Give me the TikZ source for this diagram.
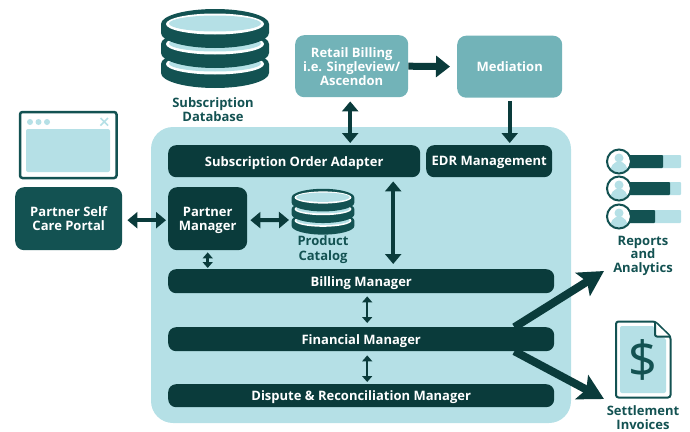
\documentclass[tikz,border=0pt]{standalone}
\usepackage{fontspec}
\setmainfont{Noto Sans}
\newfontfamily\labfont{Open Sans}
\usetikzlibrary{arrows.meta,calc}
\definecolor{dk}{HTML}{0A3B3B}
\definecolor{tl}{HTML}{135252}
\definecolor{lt}{HTML}{B5E0E6}
\definecolor{md}{HTML}{72B3B8}
\newcommand{\dblayer}[1]{%
  \fill[tl] (-54,#1) arc[start angle=180,end angle=360,x radius=54,y radius=15] -- (54,#1+9)
     arc[start angle=0,end angle=180,x radius=54,y radius=15] -- cycle;
  \fill[white] (0,#1) ellipse[x radius=49,y radius=10.5];
  \fill[lt] (0,#1-0.5) ellipse[x radius=46,y radius=8];
}
\newcommand{\person}[1]{%
  \begin{scope}[shift={(619,#1)}]
    \fill[white] (0,0) circle[radius=11];
    \begin{scope}
      \clip (0,0) circle[radius=11];
      \fill[lt] (0,-3.5) circle[radius=4.5];
      \fill[lt] (0,11) ellipse[x radius=9,y radius=11];
    \end{scope}
    \draw[tl,line width=2] (0,0) circle[radius=12];
  \end{scope}
}
\tikzset{
  x=1pt,y=-1pt,
  darkbox/.style={fill=dk,rounded corners=#1,text=white,font=\labfont\bfseries\fontsize{13}{14.5}\selectfont,align=center,inner sep=0pt,anchor=north west,text depth=0pt},
  darkbox/.default=9pt,
  midbox/.style={fill=md,rounded corners=9pt,text=white,font=\labfont\bfseries\fontsize{13}{14}\selectfont,align=center,inner sep=0pt,anchor=north west,text depth=0pt},
  lab/.style={text=tl,font=\labfont\bfseries\fontsize{13}{13.5}\selectfont,align=center,inner sep=0pt},
  bigarr/.style={dk,line width=7pt,-{Triangle[length=14pt,width=21pt]}},
  medarr/.style={dk,line width=4pt,{Triangle[length=10pt,width=16pt]}-{Triangle[length=10pt,width=16pt]}},
  vmedarr/.style={dk,line width=3.5pt,{Triangle[length=10pt,width=16pt]}-{Triangle[length=10pt,width=16pt]}},
  smarr/.style={dk,line width=2.5pt,{Triangle[length=6pt,width=10pt]}-{Triangle[length=6pt,width=10pt]}},
  diag/.style={dk,line width=8pt,-{Stealth[length=25pt,width=27pt,inset=5pt]}},
}
\begin{document}
\begin{tikzpicture}
\useasboundingbox (0,0) rectangle (690,431);
% central panel
\fill[lt,rounded corners=22pt] (151,127) rectangle (571,423);
% browser icon
\draw[tl,line width=2.5,rounded corners=2.5pt,fill=white] (20,112) rectangle (116.5,178);
\fill[lt,rounded corners=2pt] (26,129) rectangle (110,172);
\foreach \dx in {30,38.5,47} \fill[lt] (\dx,122) circle[radius=3];
\draw[lt,line width=1.5] (100.5,118) -- (108,125.5) (108,118) -- (100.5,125.5);
% databases
\begin{scope}[shift={(215,0)}]
  \dblayer{64}\dblayer{44}\dblayer{24}
\end{scope}
\begin{scope}[shift={(323,197.5)},scale=0.58]
  \dblayer{40}\dblayer{20}\dblayer{0}
\end{scope}
% nodes
\node[darkbox,fill=tl,minimum width=107pt,minimum height=63pt] (portal) at (15,187) {Partner Self\\Care Portal};
\node[darkbox,minimum width=79pt,minimum height=63pt] (partner) at (168,187) {Partner\\Manager};
\node[darkbox=8pt,minimum width=252pt,minimum height=32pt] (adapter) at (168,145) {Subscription Order Adapter};
\node[darkbox=8pt,minimum width=126pt,minimum height=32pt] (edr) at (426,145) {EDR Management};
\node[darkbox=8pt,minimum width=386pt,minimum height=24pt] (billing) at (168,269) {Billing Manager};
\node[darkbox=8pt,minimum width=386pt,minimum height=24pt] (financial) at (168,327) {Financial Manager};
\node[darkbox=8pt,minimum width=386pt,minimum height=23pt] (dispute) at (168,384) {Dispute \& Reconciliation Manager};
\node[midbox,minimum width=113pt,minimum height=62pt] (retail) at (295,35) {Retail Billing\\i.e. Singleview/\\Ascendon};
\node[midbox,minimum width=105pt,minimum height=62pt] (mediation) at (457,35.5) {Mediation};
% labels
\node[lab] (subdb) at (213,109.5) {Subscription\\Database};
\node[lab,font=\labfont\bfseries\fontsize{13}{15}\selectfont] (catalog) at (323,250) {Product\\Catalog};
\node[lab] (reports) at (643,255.5) {Reports\\and\\Analytics};
\node[lab] (settle) at (643,417.5) {Settlement\\Invoices};
% catalog icon anchor
\coordinate (cat) at (292,220);
% connectors
\draw[bigarr,shorten <=0pt,shorten >=7pt] (retail.east) -- (mediation.west);
\draw[dk,line width=4pt,-{Triangle[length=10pt,width=16pt]},shorten <=3pt,shorten >=2pt] (mediation.south) -- (mediation.south |- edr.north);
\draw[vmedarr,shorten <=4pt,shorten >=2pt] ($(retail.south)+(-1.5,0)$) -- ($(retail.south |- adapter.north)+(-1.5,0)$);
\draw[medarr,shorten <=5pt,shorten >=2pt] ($(portal.east)+(0,1.5)$) -- ($(partner.west)+(0,1.5)$);
\draw[medarr,shorten <=3pt,shorten >=3pt] ($(partner.east)+(0,1.5)$) -- (cat);
\draw[vmedarr,shorten <=4pt,shorten >=5pt] ($(adapter.south)+(99,0)$) -- ($(billing.north)+(32,0)$);
\draw[smarr,shorten <=2pt,shorten >=1pt] (partner.south) -- (partner.south |- billing.north);
\draw[smarr,shorten <=3pt,shorten >=4pt] ($(billing.south)+(6,0)$) -- ($(financial.north)+(6,0)$);
\draw[smarr,shorten <=4pt,shorten >=2pt] ($(financial.south)+(6,0)$) -- ($(dispute.north)+(6,0)$);
\coordinate (repTip) at (604,271);
\coordinate (setTip) at (604,399);
\draw[diag] ($(financial.east)+(-40,-12)$) -- (repTip);
\draw[diag] ($(financial.east)+(-40,12)$) -- (setTip);
% report icon
\foreach \y/\xe in {161.5/663,188.5/670,216.5/655}{
  \fill[lt,rounded corners=1pt] (625,\y-6.5) rectangle (681,\y+6.5);
  \fill[tl,rounded corners=1pt] (625,\y-6.5) rectangle (\xe,\y+6.5);
  \person{\y}
}
% invoice icon
\draw[tl,line width=2,rounded corners=2.5pt,fill=white] (616,321.5) -- (655,321.5) -- (670.5,336.5) -- (670.5,397.5) -- (616,397.5) -- cycle;
\fill[lt,rounded corners=2pt] (620,326) -- (654,326) -- (654,336) -- (666,338) -- (666,393) -- (620,393) -- cycle;
\fill[white] (655,322.5) -- (669.5,336.5) -- (657,336.5) -- cycle;
\draw[tl,line width=2,rounded corners=2pt,line join=round] (655,321.5) -- (655,336.5) -- (670.5,336.5);
\node[text=tl,inner sep=0pt,font=\fontsize{50}{52}\selectfont] (dollar) at (643,360) {\$};
\end{tikzpicture}
\end{document}
